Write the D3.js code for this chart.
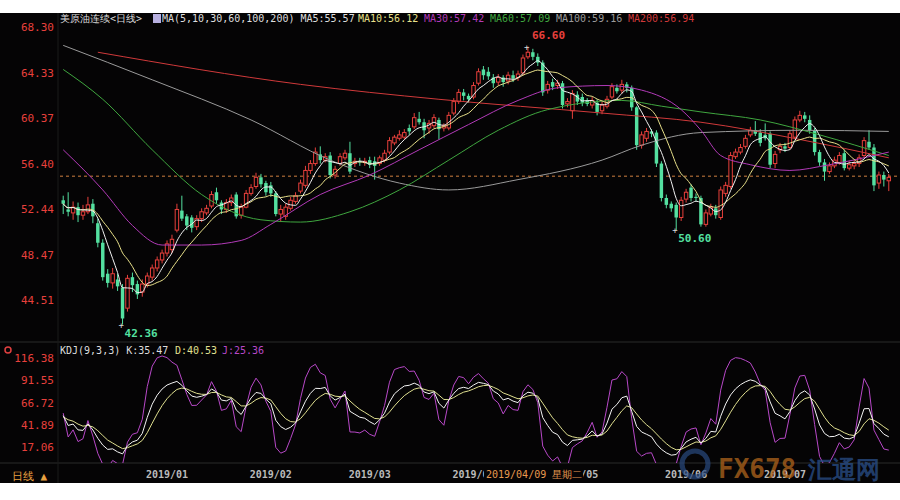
<!DOCTYPE html>
<html><head><meta charset="utf-8">
<script src="https://cdn.jsdelivr.net/npm/d3@7"></script>
<style>body{margin:0;background:#fff}svg{display:block}text{font-family:"DejaVu Sans Mono",monospace}</style>
</head><body><svg id="c" width="900" height="500"></svg>
<script>
// [open, close, high, low]
const candles = [
[53.2,52.9,53.6,52.0],[52.4,52.2,53.9,51.8],[52.1,52.6,53.1,51.5],[52.6,51.9,53.0,51.3],[51.9,52.2,52.8,51.5],
[52.2,52.8,53.5,52.0],[52.9,51.8,53.3,51.2],[51.2,49.5,51.6,49.1],[49.5,46.5,49.8,46.2],[46.8,46.0,47.2,45.6],
[46.0,46.8,47.3,45.5],[46.3,45.7,46.8,45.3],[45.6,42.9,45.9,42.36],[43.8,46.4,46.7,43.5],[46.5,45.8,46.9,45.2],
[45.9,45.0,46.2,44.6],[45.2,45.9,46.3,44.8],[45.9,46.6,46.9,45.6],[46.5,47.3,47.6,46.2],[47.3,48.0,48.3,47.0],
[48.0,48.6,48.9,47.7],[48.6,49.4,49.7,48.3],[48.9,49.8,50.2,48.6],[50.6,52.4,52.9,50.4],[52.3,51.6,53.6,51.4],
[51.8,51.0,52.0,50.6],[51.7,50.8,51.9,50.4],[50.9,51.6,51.9,50.6],[51.6,52.2,52.5,51.3],[52.1,52.5,52.8,51.9],
[52.7,53.7,54.0,52.5],[53.9,53.2,54.3,52.9],[53.0,52.4,53.2,52.0],[52.4,53.0,53.3,52.1],[53.0,53.4,53.7,52.7],
[53.7,51.8,53.9,51.6],[51.9,52.6,52.9,51.6],[52.6,53.8,54.1,52.5],[53.8,54.3,54.6,53.6],[54.4,55.2,55.6,54.2],
[55.2,54.6,55.5,54.3],[54.7,53.9,54.9,53.6],[54.5,53.8,54.8,53.5],[53.8,52.0,54.0,51.8],[52.0,52.4,52.8,51.3],
[51.8,52.6,52.9,51.5],[52.5,53.2,53.5,52.3],[53.1,53.6,53.9,52.9],[54.0,54.7,55.0,53.8],[54.5,55.8,56.2,54.3],
[55.8,56.4,56.7,55.5],[56.4,57.4,57.8,56.2],[57.2,56.7,57.9,56.4],[56.7,57.0,57.3,56.5],[57.1,55.4,57.4,55.1],
[55.4,55.9,56.2,55.1],[56.4,57.0,57.3,56.2],[56.9,57.3,57.6,56.7],[57.3,55.7,58.3,55.5],[56.4,56.6,56.9,56.1],
[56.6,56.5,56.9,56.2],[56.5,56.6,56.9,56.2],[56.7,56.3,57.0,56.0],[56.6,56.2,57.0,55.0],[56.4,56.9,57.1,56.2],
[56.7,57.3,57.6,56.5],[57.4,58.4,58.7,57.2],[58.2,58.7,58.9,58.0],[58.6,58.9,59.3,58.4],[58.7,59.1,59.4,58.5],
[59.5,59.2,59.8,58.9],[59.6,60.4,60.8,59.4],[60.3,60.0,60.9,59.8],[60.0,59.3,60.3,58.6],[59.5,59.9,60.2,59.0],
[59.7,60.4,60.7,59.5],[60.2,59.4,60.4,58.5],[59.5,59.7,59.9,59.2],[59.5,60.6,60.9,59.3],[60.8,61.8,62.1,60.6],
[61.8,62.6,62.9,61.6],[62.6,62.3,62.9,61.9],[62.3,62.0,62.5,61.7],[62.2,63.2,63.5,62.0],[63.4,64.4,64.7,63.2],
[64.6,64.1,64.9,63.7],[64.4,64.0,64.8,63.7],[63.9,63.4,64.2,63.0],[63.5,63.9,64.2,63.2],[63.9,63.5,64.1,63.1],
[63.6,64.1,64.4,63.3],[64.1,63.8,64.5,63.5],[63.9,64.2,64.5,63.6],[64.3,65.6,65.9,64.1],[65.7,66.1,66.6,65.5],
[66.1,65.7,66.4,65.4],[65.7,65.2,66.0,64.9],[65.2,62.6,65.4,62.3],[62.8,63.3,63.6,62.5],[63.5,63.1,63.8,62.8],
[63.2,63.4,63.7,62.9],[63.4,61.5,63.6,61.2],[61.6,61.8,62.1,61.3],[61.0,62.5,62.8,60.3],[62.4,61.8,62.7,61.5],
[62.2,61.7,62.5,61.4],[61.9,61.6,62.1,61.4],[61.5,61.9,62.2,61.2],[61.7,60.9,62.0,60.6],[61.0,61.5,61.8,60.7],
[61.4,62.0,62.3,61.2],[62.2,63.1,63.4,62.0],[63.0,62.7,63.3,62.5],[62.8,63.3,63.7,62.5],[63.3,63.0,63.5,62.6],
[63.0,61.3,63.2,61.0],[61.3,58.0,61.4,57.6],[58.0,58.9,59.2,57.7],[58.6,59.2,59.5,58.3],[59.2,59.0,59.4,58.7],
[59.1,56.4,59.3,56.1],[56.4,53.4,56.6,53.1],[53.4,52.8,53.7,52.5],[52.9,52.5,53.1,52.2],[52.8,51.7,53.0,50.6],
[51.7,53.2,53.5,51.4],[53.3,53.9,54.2,53.0],[54.3,53.4,54.6,53.1],[53.5,53.4,53.8,53.1],[53.4,51.1,53.6,50.9],
[51.1,52.1,52.4,50.9],[52.0,52.6,52.9,51.8],[52.5,51.9,52.8,51.6],[51.7,54.1,54.4,51.5],[53.8,54.5,54.8,53.5],
[54.4,57.1,57.4,54.2],[57.0,57.4,57.7,56.8],[57.4,57.8,58.1,57.2],[57.9,58.6,58.9,57.7],[58.9,59.3,59.6,58.7],
[59.3,59.0,60.1,58.8],[59.1,58.2,59.4,57.9],[58.9,58.6,59.9,58.4],[59.0,56.3,59.2,56.0],[56.4,57.2,57.5,56.0],
[57.6,57.9,58.2,57.3],[57.9,57.7,58.2,57.4],[57.8,59.0,59.3,57.6],[58.7,60.2,60.5,58.5],[60.2,60.6,61.0,60.0],
[60.6,60.3,60.9,60.0],[60.2,59.3,60.6,59.0],[59.3,57.4,59.5,57.1],[57.4,56.5,57.6,56.2],[56.5,55.7,56.8,54.9],
[55.7,56.2,56.5,55.5],[56.2,56.7,57.0,56.0],[56.5,57.1,57.4,56.3],[57.3,56.0,57.6,55.8],[56.0,56.3,56.6,55.8],
[56.2,56.4,56.7,55.9],[56.4,56.9,57.2,56.1],[57.1,58.4,58.7,56.9],[58.3,57.8,59.3,57.6],[57.8,54.5,58.1,54.0],
[54.7,55.4,55.7,54.2],[55.4,55.0,55.7,54.4],[54.9,55.2,55.5,54.0]
];
// long moving averages: [candle index, value]
const ma30 = [[0,57.6],[8,54.1],[14,51.0],[20,49.3],[28,49.3],[36,49.7],[42,51.1],[52,53.7],[62,55.4],[72,57.6],[82,59.8],[92,61.9],[100,63.0],[110,63.2],[117,62.8],[125,61.1],[129,59.3],[133,57.1],[139,56.3],[147,55.8],[155,56.3],[167,57.4]];
const ma60 = [[0,64.6],[8,62.0],[18,57.6],[28,53.7],[40,51.5],[48,51.3],[58,52.2],[68,54.1],[78,56.7],[88,59.3],[98,61.1],[113,61.9],[121,61.4],[129,60.9],[141,60.2],[153,58.9],[167,57.1]];
const ma100 = [[0,66.7],[18,63.7],[38,60.2],[54,56.7],[68,54.7],[78,54.1],[92,55.0],[109,56.7],[117,58.0],[129,59.1],[149,59.3],[167,59.2]];
const ma200 = [[7,66.1],[48,63.3],[76,62.0],[109,60.8],[129,60.0],[149,58.5],[167,56.9]];
const priceTicks = [68.30,64.33,60.37,56.40,52.44,48.47,44.51];
const kdjTicks = [116.38,91.55,66.72,41.89,17.06];
const monthLabels = ["2019/01","2019/02","2019/03","2019/04","2019/05","2019/06","2019/07"];
const monthIndex = [21,42,62,83,104,126,146];
const lastPrice = 55.3;

const svg = d3.select("#c");
svg.append("rect").attr("x",0).attr("y",13).attr("width",900).attr("height",470).attr("fill","#050405");
const N = candles.length;
const x = d3.scaleBand().domain(d3.range(N)).range([60,892]).padding(0.3);
const cx = i => x(i)+x.bandwidth()/2;
const y = d3.scaleLinear().domain([44.51,68.30]).range([300,27]);
const yk = d3.scaleLinear().domain([17.06,116.38]).range([447,358]);
const red="#e8403c", grn="#54e0a0";

svg.append("line").attr("x1",0).attr("x2",900).attr("y1",342).attr("y2",342).attr("stroke","#2a2a2a");
svg.append("line").attr("x1",0).attr("x2",900).attr("y1",463).attr("y2",463).attr("stroke","#2a2a2a");
svg.append("line").attr("x1",58).attr("x2",58).attr("y1",13).attr("y2",483).attr("stroke","#1a1a1a");

const ya = svg.append("g").attr("transform","translate(57,0)").call(d3.axisLeft(y).tickValues(priceTicks).tickFormat(d3.format(".2f")).tickSize(0));
ya.select(".domain").remove();
ya.selectAll("text").attr("fill",red).attr("font-size",11).attr("font-family","Liberation Sans,Arial");
const ka = svg.append("g").attr("transform","translate(57,0)").call(d3.axisLeft(yk).tickValues(kdjTicks).tickFormat(d3.format(".2f")).tickSize(0));
ka.select(".domain").remove();
ka.selectAll("text").attr("fill",red).attr("font-size",11).attr("font-family","Liberation Sans,Arial");

svg.append("line").attr("x1",60).attr("x2",900).attr("y1",y(lastPrice)).attr("y2",y(lastPrice)).attr("stroke","#d08040").attr("stroke-dasharray","3,3");

const g = svg.append("g");
candles.forEach((c,i)=>{
  const up = c[1]>=c[0], col = up?red:grn;
  g.append("line").attr("x1",cx(i)).attr("x2",cx(i)).attr("y1",y(c[2])).attr("y2",y(c[3])).attr("stroke",col);
  const top=y(Math.max(c[0],c[1])), h=Math.max(1,Math.abs(y(c[0])-y(c[1])));
  g.append("rect").attr("x",x(i)).attr("y",top).attr("width",x.bandwidth()).attr("height",h)
   .attr("fill",up?"#050405":grn).attr("stroke",col).attr("stroke-width",up?1:0);
});

const closes = candles.map(c=>c[1]);
const sma = n => closes.map((v,i)=>{const s=closes.slice(Math.max(0,i-n+1),i+1);return [i,d3.mean(s)];});
const line = d3.line().x(d=>cx(d[0])).y(d=>y(d[1])).curve(d3.curveMonotoneX);
[[ma200,"#d0393a"],[ma100,"#9a9a9a"],[ma60,"#3fa63f"],[ma30,"#b23ab8"],[sma(10),"#e8e08a"],[sma(5),"#f0f0f0"]].forEach(([d,c])=>{
  svg.append("path").attr("d",line(d)).attr("fill","none").attr("stroke",c).attr("stroke-width",1);
});

const ann=(i,v,txt,col,dx,dy)=>{
  svg.append("text").attr("x",cx(i)-4).attr("y",y(v)+3).text("+").attr("fill","#ddd").attr("font-size",9);
  svg.append("text").attr("x",cx(i)+dx).attr("y",y(v)+dy).text(txt).attr("fill",col).attr("font-size",11).attr("font-weight","bold").attr("font-family","Liberation Sans,Arial");
};
ann(12,42.36,"42.36",grn,2,12);
ann(94,66.6,"66.60",red,4,-8);
ann(124,50.6,"50.60",grn,2,12);

let K=50,D=50; const kd=[],dd=[],jd=[];
candles.forEach((c,i)=>{
  const w=candles.slice(Math.max(0,i-8),i+1);
  const hh=d3.max(w,d=>d[2]), ll=d3.min(w,d=>d[3]);
  const rsv = hh===ll?50:(c[1]-ll)/(hh-ll)*100;
  K=2/3*K+rsv/3; D=2/3*D+K/3;
  kd.push([i,K]); dd.push([i,D]); jd.push([i,3*K-2*D]);
});
svg.append("clipPath").attr("id","kc").append("rect").attr("x",60).attr("y",343).attr("width",840).attr("height",120);
const kl = d3.line().x(d=>cx(d[0])).y(d=>yk(d[1]));
[[jd,"#b848c8"],[dd,"#e0e090"],[kd,"#f4f4f4"]].forEach(([d,c])=>{
  svg.append("path").attr("d",kl(d)).attr("fill","none").attr("stroke",c).attr("clip-path","url(#kc)");
});

const hdr=(xp,yp,t,c)=>svg.append("text").attr("x",xp).attr("y",yp).text(t).attr("fill",c).attr("font-size",10);
svg.append("text").attr("x",60).attr("y",22).text("美原油连续<日线>").attr("fill","#ddd").attr("font-size",10).attr("font-family","Noto Sans CJK SC");
svg.append("rect").attr("x",153).attr("y",14).attr("width",8).attr("height",9).attr("fill","#b8b0e0");
hdr(162,22,"MA(5,10,30,60,100,200) MA5:55.57","#ddd");
hdr(358,22,"MA10:56.12","#e8e08a");
hdr(424,22,"MA30:57.42","#b23ab8");
hdr(490,22,"MA60:57.09","#3fa63f");
hdr(556,22,"MA100:59.16","#9a9a9a");
hdr(628,22,"MA200:56.94","#d0393a");
hdr(60,354,"KDJ(9,3,3) K:35.47","#ddd");
hdr(175,354,"D:40.53","#e0e090");
hdr(222,354,"J:25.36","#b848c8");
svg.append("circle").attr("cx",8).attr("cy",350).attr("r",3).attr("fill","none").attr("stroke","#e04040").attr("stroke-width",1.5);

// x axis labels (April/May labels partly hidden by the date tooltip, as in the reference)
svg.append("clipPath").attr("id","ac").append("rect").attr("x",0).attr("y",463).attr("width",484).attr("height",20);
svg.append("clipPath").attr("id","bc").append("rect").attr("x",583).attr("y",463).attr("width",317).attr("height",20);
monthLabels.forEach((m,k)=>{
  const t = svg.append("text").attr("x",cx(monthIndex[k])).attr("y",478).attr("text-anchor","middle").text(m)
   .attr("fill","#bbb").attr("font-size",10).attr("font-weight","bold").attr("font-family","Liberation Sans,Arial");
  if(k===3) t.attr("clip-path","url(#ac)");
  if(k===4) t.attr("clip-path","url(#bc)");
});
svg.append("rect").attr("x",484).attr("y",466).attr("width",98).attr("height",16).attr("fill","#050405");
svg.append("text").attr("x",486).attr("y",478).text("2019/04/09 星期二").attr("fill","#e89a50").attr("font-size",10).attr("font-family","Noto Sans CJK SC");
svg.append("text").attr("x",12).attr("y",480).text("日线 ▲").attr("fill","#e8a040").attr("font-size",11).attr("font-family","Noto Sans CJK SC");

// watermark
svg.append("circle").attr("cx",695).attr("cy",464).attr("r",13).attr("fill","none").attr("stroke","#2a4a80").attr("stroke-width",5).attr("opacity",0.7);
svg.append("text").attr("x",718).attr("y",478).text("FX678").attr("fill","#b0641c").attr("opacity",0.75).attr("font-size",26).attr("font-weight","bold").attr("font-family","Liberation Sans,Arial");
svg.append("text").attr("x",808).attr("y",478).text("汇通网").attr("fill","#2a4f8a").attr("opacity",0.75).attr("font-size",24).attr("font-weight","bold").attr("font-family","Noto Sans CJK SC");
</script></body></html>
